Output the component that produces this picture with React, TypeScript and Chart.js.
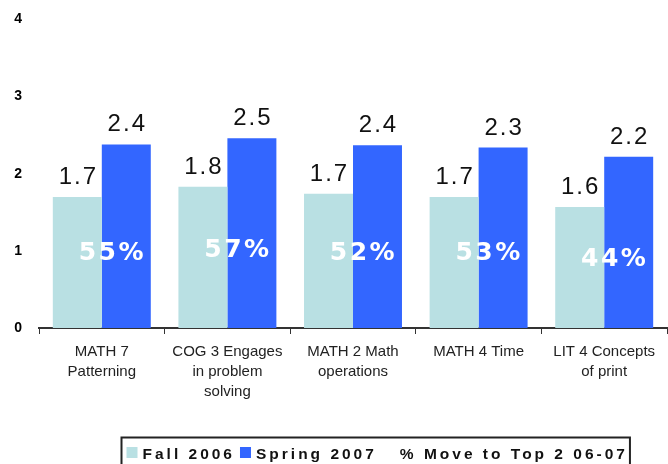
import React, { useEffect, useRef } from "react";
import { Chart, registerables } from "chart.js";

Chart.register(...registerables);

const categories: string[][] = [
  ["MATH 7", "Patterning"],
  ["COG 3 Engages", "in problem", "solving"],
  ["MATH 2 Math", "operations"],
  ["MATH 4 Time"],
  ["LIT 4 Concepts", "of print"],
];
const fall2006 = [1.7, 1.83, 1.74, 1.7, 1.57];
const spring2007 = [2.38, 2.46, 2.37, 2.34, 2.22];
const movePct = ["55%", "57%", "52%", "53%", "44%"];
const movePctLevel = [1.0, 1.04, 1.0, 1.0, 0.93];
const yTicks = [0, 1, 2, 3, 4];
const seriesNames = ["Fall 2006", "Spring 2007", "% Move to Top 2 06-07"];

const TEAL = "#b9e0e3";
const BLUE = "#3366ff";
const FONT = '"Liberation Sans", Arial, sans-serif';

const overlayPlugin = {
  id: "overlay",
  afterDatasetsDraw(chart: any) {
    const ctx = chart.ctx as CanvasRenderingContext2D;
    const ys = chart.scales.y;
    const xs = chart.scales.x;
    ctx.save();
    ctx.font = `24px ${FONT}`;
    (ctx as any).letterSpacing = "2px";
    ctx.fillStyle = "#111";
    ctx.textAlign = "center";
    ctx.textBaseline = "alphabetic";
    chart.data.datasets.forEach((ds: any, di: number) => {
      const meta = chart.getDatasetMeta(di);
      meta.data.forEach((bar: any, i: number) => {
        const v = ds.data[i] as number;
        ctx.fillText(v.toFixed(1), bar.x + 1, bar.y - 13);
      });
    });
    ctx.font = `bold 25px "DejaVu Sans", ${FONT}`;
    (ctx as any).letterSpacing = "2.5px";
    ctx.fillStyle = "#ffffff";
    movePct.forEach((t, i) => {
      const x = xs.getPixelForValue(i) + 10.5;
      const y = ys.getPixelForValue(movePctLevel[i]) + 9.5;
      ctx.fillText(t, x, y);
    });
    ctx.restore();
  },
  afterDraw(chart: any) {
    const ctx = chart.ctx as CanvasRenderingContext2D;
    ctx.save();
    ctx.font = `bold 15.5px ${FONT}`;
    const sp = 3.0;
    (ctx as any).letterSpacing = `${sp}px`;
    ctx.textAlign = "left";
    ctx.textBaseline = "alphabetic";
    const left = 121.5;
    const top = 437.5;
    let x = left + 5;
    const sq = 11;
    const colors = [TEAL, BLUE, null];
    seriesNames.forEach((name, i) => {
      const c = colors[i];
      if (c) {
        ctx.fillStyle = c;
        ctx.fillRect(x, 447, sq, sq);
        x += sq + 5;
      } else {
        x += 18;
      }
      ctx.fillStyle = "#111";
      ctx.fillText(name, x, 458.5);
      x += ctx.measureText(name).width - sp + 8;
    });
    const right = x - 8 + 5;
    ctx.strokeStyle = "#222";
    ctx.lineWidth = 2;
    ctx.strokeRect(left, top, right - left, 40);
    ctx.restore();
  },
};

export default function App() {
  const ref = useRef<HTMLCanvasElement | null>(null);
  useEffect(() => {
    if (!ref.current) return;
    const chart = new Chart(ref.current, {
      type: "bar",
      data: {
        labels: categories,
        datasets: [
          {
            label: seriesNames[0],
            data: fall2006,
            backgroundColor: TEAL,
            categoryPercentage: 0.78,
            barPercentage: 1,
          },
          {
            label: seriesNames[1],
            data: spring2007,
            backgroundColor: BLUE,
            categoryPercentage: 0.78,
            barPercentage: 1,
          },
        ],
      },
      options: {
        responsive: false,
        animation: false,
        layout: { padding: { left: 0, right: 1, top: 19.5, bottom: 0 } },
        plugins: {
          legend: { display: false },
          tooltip: { enabled: false },
        },
        scales: {
          y: {
            min: 0,
            max: 4,
            afterFit: (s: any) => {
              s.width = 39;
              s.paddingTop = 0;
              s.paddingBottom = 0;
            },
            afterBuildTicks: (s: any) => {
              s.ticks = yTicks.map((v) => ({ value: v }));
            },
            grid: { display: false, drawTicks: false },
            border: { display: false },
            ticks: {
              padding: 17,
              color: "#000",
              font: { family: FONT, size: 14, weight: "bold" },
            },
          },
          x: {
            afterFit: (s: any) => {
              s.height = 136;
              s.paddingTop = 0;
              s.paddingBottom = 0;
            },
            grid: {
              display: true,
              drawOnChartArea: false,
              drawTicks: true,
              tickLength: 6,
              color: "#333",
              lineWidth: 1,
            },
            border: { display: true, color: "#333", width: 2 },
            ticks: {
              padding: 8,
              color: "#222",
              maxRotation: 0,
              autoSkip: false,
              font: { family: FONT, size: 15, lineHeight: 1.33 },
            },
          },
        },
      },
      plugins: [overlayPlugin],
    });
    return () => chart.destroy();
  }, []);
  return (
    <div style={{ position: "absolute", left: 0, top: 0, width: 668, height: 464, background: "#fff" }}>
      <canvas ref={ref} width={668} height={464} />
    </div>
  );
}
